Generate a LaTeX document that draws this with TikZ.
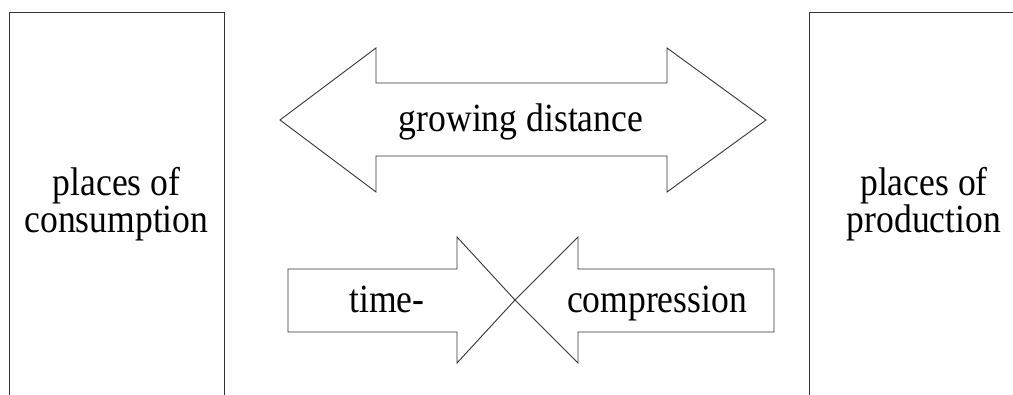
\documentclass[tikz,border=0pt]{standalone}
\usepackage{fontspec}
\setmainfont{Liberation Serif}[FakeStretch=0.89]
\begin{document}
\begin{tikzpicture}[x=1pt,y=1pt,
  shape line/.style={draw=black!80,line width=0.9pt,fill=white,line join=miter},
  lbl/.style={font=\fontsize{40}{37}\selectfont,inner sep=0pt,anchor=base,text=black,align=center}]
\useasboundingbox (0,0) rectangle (1013,394);
\clip (0,0) rectangle (1013,394);
% rectangles
\draw[shape line,fill=none] (9,-5) -- (9,382) -- (224,382) -- (224,-5);
\draw[shape line,fill=none] (809,-5) -- (809,382) -- (1020,382);
% double arrow
\draw[shape line] (280,274) -- (376,346) -- (376,311) -- (667,311) -- (667,346)
  -- (766,274) -- (667,202) -- (667,238) -- (376,238) -- (376,202) -- cycle;
% converging arrows
\coordinate (meet) at (515,94);
\draw[shape line] (288,125) -- (457,125) -- (457,157) -- (meet) -- (457,31) -- (457,62) -- (288,62) -- cycle;
\draw[shape line] (774,125) -- (578,125) -- (578,157) -- (meet) -- (578,31) -- (578,62) -- (774,62) -- cycle;
% labels
\node[lbl] (cons) at (116.5,161) {places of\\consumption};
\node[lbl] (prod) at (924,161) {places of\\production};
\node[lbl] (grow) at (521,262) {growing distance};
\node[lbl] (time) at (387,81) {time-};
\node[lbl] (comp) at (657,81) {compression};
\end{tikzpicture}
\end{document}
